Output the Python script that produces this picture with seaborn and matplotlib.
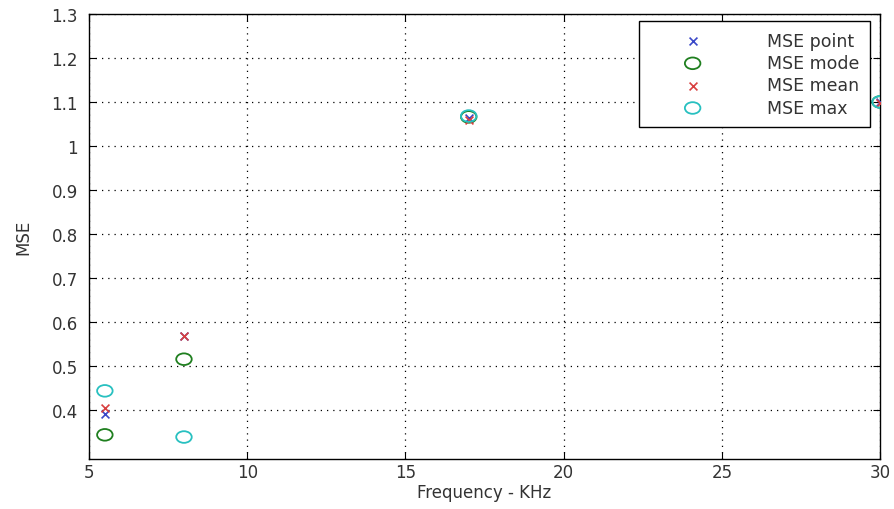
import matplotlib
matplotlib.use("Agg")
import matplotlib.pyplot as plt
from matplotlib.path import Path
from matplotlib.transforms import Affine2D
import seaborn as sns
import pandas as pd

freq = [5.5, 8, 17, 30]
mse_point = [0.390, 0.567, 1.064, 1.100]
mse_mode = [0.343, 0.515, 1.066, 1.100]
mse_mean = [0.405, 0.567, 1.060, 1.098]
mse_max = [0.443, 0.338, 1.068, 1.100]

x_ticks = [5, 10, 15, 20, 25, 30]
y_ticks = [0.4, 0.5, 0.6, 0.7, 0.8, 0.9, 1.0, 1.1, 1.2, 1.3]
y_ticklabels = ["0.4", "0.5", "0.6", "0.7", "0.8", "0.9", "1", "1.1", "1.2", "1.3"]

sns.set_theme(style="white")
plt.rcParams['font.family'] = ['DejaVu Sans']

fig = plt.figure(figsize=(8.94, 5.10), dpi=100)
ax = fig.add_axes([0.0996, 0.098, 0.8848, 0.8726])

ellipse = Path.unit_circle().transformed(Affine2D().scale(1.0, 0.75))

series = [
    ("MSE point", mse_point, "x", "#3a48c8", 32),
    ("MSE mode", mse_mode, ellipse, "#1f7f1f", 125),
    ("MSE mean", mse_mean, "x", "#d84040", 32),
    ("MSE max", mse_max, ellipse, "#28c0c0", 125),
]
for label, vals, mk, col, size in series:
    df = pd.DataFrame({"Frequency": freq, "MSE": vals})
    if isinstance(mk, Path):
        sns.scatterplot(data=df, x="Frequency", y="MSE", ax=ax, marker=mk, s=size,
                        facecolor="none", edgecolor=col, linewidth=1.3, label=label, zorder=3)
    else:
        sns.scatterplot(data=df, x="Frequency", y="MSE", ax=ax, marker="x", s=size,
                        color=col, linewidth=1.2, label=label, zorder=3)

ax.set_xlim(5, 30)
ax.set_ylim(0.288, 1.3)
ax.set_xticks(x_ticks)
ax.set_xticklabels([str(t) for t in x_ticks])
ax.set_yticks(y_ticks)
ax.set_yticklabels(y_ticklabels)
ax.grid(True, color="black", linestyle=(0, (1, 4)), linewidth=0.9)
for sp in ax.spines.values():
    sp.set_color("black")
    sp.set_linewidth(1.0)
ax.tick_params(direction="in", length=5, width=0.8, colors="black", labelsize=12,
               top=True, right=True, bottom=True, left=True, labelcolor="#333333")
ax.tick_params(axis="x", pad=3)
ax.tick_params(axis="y", pad=8)
ax.set_xlabel("Frequency - KHz", fontsize=12, color="#333333", labelpad=1)
ax.set_ylabel("MSE", fontsize=12, color="#333333", labelpad=14)

leg = ax.legend(loc="upper right", bbox_to_anchor=(0.9874, 0.984), fontsize=12.5,
                frameon=True, fancybox=False, framealpha=1, edgecolor="black",
                borderpad=0.6, labelspacing=0.25, handlelength=5.0, handletextpad=1.8,
                borderaxespad=0.0)
leg.get_frame().set_linewidth(1.0)
for t in leg.get_texts():
    t.set_color("#333333")

fig.savefig("out.png", dpi=100)
